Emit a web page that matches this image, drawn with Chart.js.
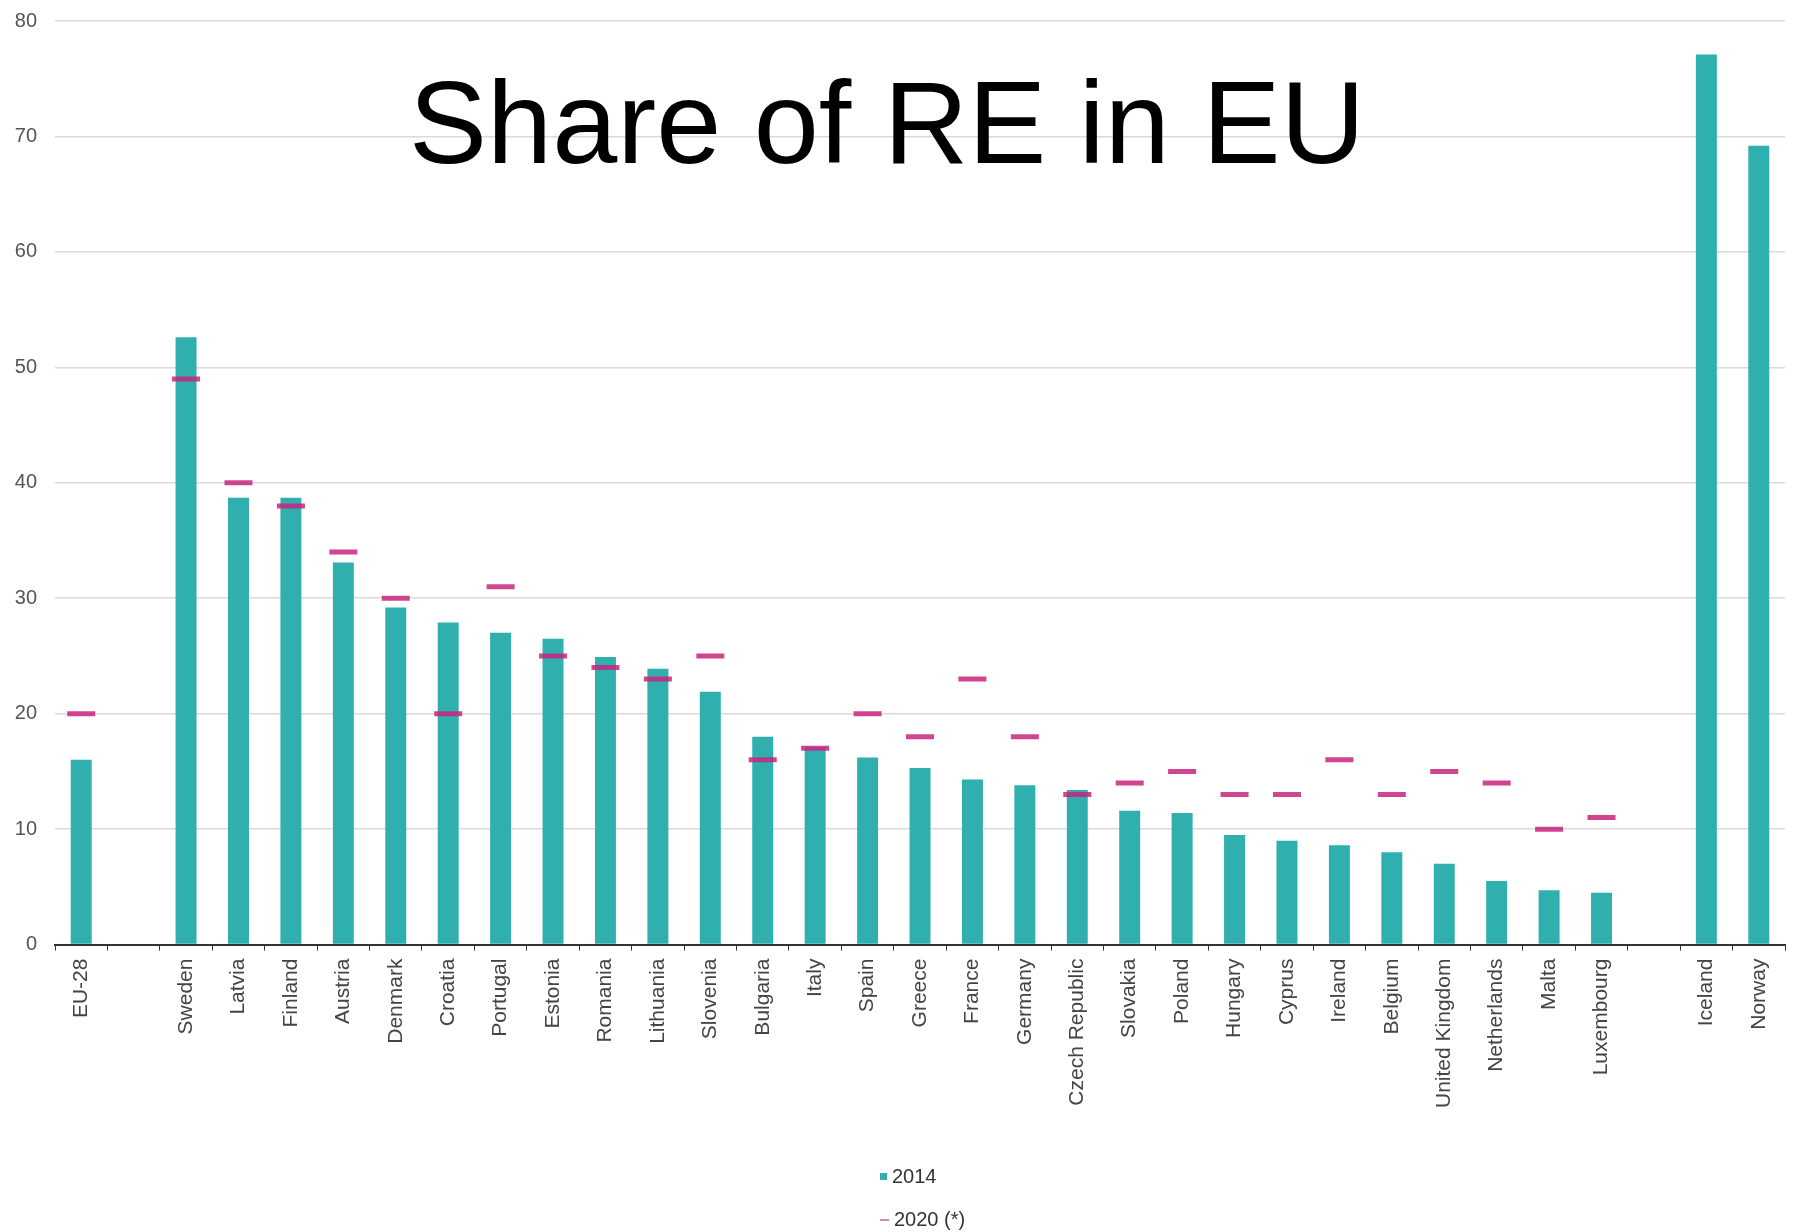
<!DOCTYPE html>
<html>
<head>
<meta charset="utf-8">
<title>Share of RE in EU</title>
<script src="https://cdn.jsdelivr.net/npm/chart.js@4/dist/chart.umd.min.js"></script>
<style>
    html, body {
        margin: 0;
        padding: 0;
        background: #ffffff;
        overflow: hidden;
    }
    #wrap {
        position: relative;
        width: 1804px;
        height: 1232px;
    }
    #myChart {
        display: block;
    }
    #legend {
        position: absolute;
        left: 880px;
        top: 1155px;
        font-family: 'Liberation Sans', Arial, sans-serif;
        font-size: 20px;
        color: #333;
        line-height: 43px;
    }
    #legend .row {
        display: flex;
        align-items: center;
        height: 43px;
    }
    #legend .swatch {
        width: 7px;
        height: 7px;
        margin-right: 5px;
        background: #2fb0ae;
    }
    #legend .dash {
        width: 9px;
        height: 2px;
        margin-right: 5px;
        background: #d98aae;
    }
</style>
</head>
<body>
<div id="wrap">
    <canvas id="myChart" width="1804" height="1232"></canvas>
    <div id="legend">
        <div class="row"><span class="swatch"></span>2014</div>
        <div class="row"><span class="dash"></span>2020 (*)</div>
    </div>
</div>
<script>
// Countries in display order, empty strings leave a gap between groups
const countries = [
    'EU-28', '',
    'Sweden', 'Latvia', 'Finland', 'Austria', 'Denmark', 'Croatia', 'Portugal',
    'Estonia', 'Romania', 'Lithuania', 'Slovenia', 'Bulgaria', 'Italy', 'Spain',
    'Greece', 'France', 'Germany', 'Czech Republic', 'Slovakia', 'Poland', 'Hungary',
    'Cyprus', 'Ireland', 'Belgium', 'United Kingdom', 'Netherlands', 'Malta', 'Luxembourg',
    '',
    'Iceland', 'Norway'
];

// Share of renewable energy in gross final consumption, 2014 (%)
const share2014 = [
    16.0, null,
    52.6, 38.7, 38.7, 33.1, 29.2, 27.9, 27.0,
    26.5, 24.9, 23.9, 21.9, 18.0, 17.1, 16.2,
    15.3, 14.3, 13.8, 13.4, 11.6, 11.4, 9.5,
    9.0, 8.6, 8.0, 7.0, 5.5, 4.7, 4.5,
    null,
    77.1, 69.2
];

// National 2020 targets (%)
const target2020 = [
    20, null,
    49, 40, 38, 34, 30, 20, 31,
    25, 24, 23, 25, 16, 17, 20,
    18, 23, 18, 13, 14, 15, 13,
    13, 16, 13, 15, 14, 10, 11,
    null,
    null, null
];

const yTicks = [0, 10, 20, 30, 40, 50, 60, 70, 80];

const fontFamily = "'Liberation Sans', Arial, sans-serif";

// Big heading drawn over the plot area
const headingPlugin = {
    id: 'heading',
    afterDraw(chart, args, opts) {
        const ctx = chart.ctx;
        ctx.save();
        ctx.font = opts.size + 'px ' + fontFamily;
        ctx.fillStyle = '#000';
        ctx.textAlign = 'center';
        ctx.textBaseline = 'alphabetic';
        ctx.fillText(opts.text, opts.x, opts.y);
        ctx.restore();
    }
};

const ctx = document.getElementById('myChart').getContext('2d');
const myChart = new Chart(ctx, {
    type: 'bar',
    data: {
        labels: countries,
        datasets: [
            {
                type: 'line',
                label: '2020 (*)',
                data: target2020,
                showLine: false,
                pointStyle: 'line',
                pointRadius: 14,
                pointHoverRadius: 14,
                pointBorderWidth: 5,
                pointBorderColor: 'rgba(200, 35, 125, 0.85)',
                pointBackgroundColor: 'rgba(200, 35, 125, 0.85)',
                order: 0
            },
            {
                label: '2014',
                data: share2014,
                backgroundColor: '#2fb0ae',
                borderWidth: 0,
                barPercentage: 0.4,
                categoryPercentage: 1.0,
                order: 1
            }
        ]
    },
    options: {
        responsive: false,
        animation: false,
        layout: {
            padding: { left: 15, right: 12, top: 21, bottom: 116 }
        },
        scales: {
            x: {
                offset: true,
                grid: {
                    offset: true,
                    drawOnChartArea: false,
                    drawTicks: true,
                    tickLength: 6,
                    color: '#333'
                },
                border: {
                    color: '#333',
                    width: 2
                },
                ticks: {
                    autoSkip: false,
                    minRotation: 90,
                    maxRotation: 90,
                    padding: 8,
                    color: '#444',
                    font: { family: fontFamily, size: 21 }
                },
                // vertical labels don't hang over the sides, so drop the extra side padding
                afterFit: (scale) => {
                    scale.paddingLeft = 0;
                    scale.paddingRight = 0;
                }
            },
            y: {
                min: 0,
                max: 80,
                afterBuildTicks: (axis) => {
                    axis.ticks = yTicks.map(v => ({ value: v }));
                },
                grid: {
                    color: '#dadada',
                    lineWidth: 1.5,
                    drawTicks: false
                },
                border: { display: false },
                ticks: {
                    padding: 18,
                    color: '#555',
                    font: { family: fontFamily, size: 20 }
                },
                // fixed axis width, and let layout padding alone set the top gap
                afterFit: (scale) => {
                    scale.width = 40;
                    scale.paddingTop = 0;
                    scale.paddingBottom = 0;
                }
            }
        },
        plugins: {
            legend: { display: false },
            tooltip: { enabled: false },
            heading: {
                text: 'Share of RE in EU',
                size: 117,
                x: 887,
                y: 163
            }
        }
    },
    plugins: [headingPlugin]
});
</script>
</body>
</html>
